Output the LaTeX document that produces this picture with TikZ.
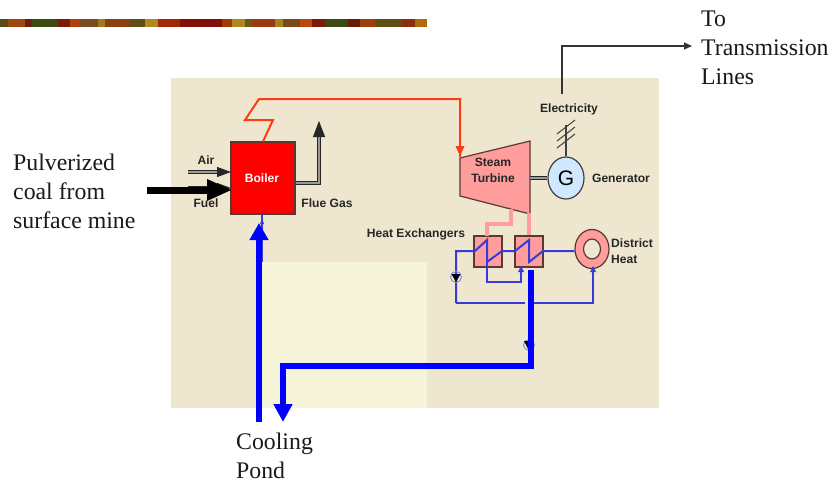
\documentclass[tikz,border=0pt]{standalone}
\usepackage{fontspec}
\setmainfont{Liberation Serif}
\setsansfont{Liberation Sans}
\usetikzlibrary{arrows.meta,shapes.geometric}
\definecolor{panel}{HTML}{EFE6CF}
\definecolor{pond}{HTML}{F5F3D8}
\definecolor{pinkfill}{HTML}{FF9C9C}
\definecolor{steam}{HTML}{FF3A14}
\definecolor{pipeblue}{HTML}{3A3AD8}
\definecolor{genblue}{HTML}{CFE8FF}
\definecolor{edge}{HTML}{5A3A30}
\tikzset{
  big/.style={font=\fontsize{23.8}{29}\selectfont, align=left, text=black!90, inner sep=0pt},
  lab/.style={font=\sffamily\bfseries\fontsize{12.1}{16}\selectfont, text=black!85, inner sep=0pt, align=center},
  hx/.style={draw=edge, line width=1.2pt, fill=pinkfill, minimum width=28pt, minimum height=31pt, inner sep=0pt},
  thinblue/.style={draw=pipeblue, line width=2pt},
  pinkpipe/.style={draw=pinkfill, line width=3.6pt},
  steamline/.style={draw=steam, line width=2pt},
  dbl/.style={line width=1pt, draw=black!85, double=black!40, double distance=1.2pt},
  wire/.style={draw=black!75, line width=1.3pt}
}
\begin{document}
\begin{tikzpicture}[x=1pt,y=-1pt]
\useasboundingbox (0,0) rectangle (833,483);
% top band
\foreach \a/\b/\c in {0/8/5A4A1A,8/25/9A4A10,25/32/6A2010,32/58/3A4A10,58/70/7A1A10,70/80/B04010,80/98/7A4A20,98/105/A07A20,105/130/8A4010,130/145/5E5012,145/158/B08A20,158/180/A02A08,180/222/801008,222/232/A03A08,232/245/B08A20,245/252/6A5A18,252/275/9A3A10,275/283/A88020,283/300/7A4A18,300/312/B84A10,312/325/7A1A08,325/348/3A4A10,348/360/6A1A08,360/375/9A4010,375/402/5E5012,402/415/8A3010,415/427/B06A10}{
  \definecolor{bandc}{HTML}{\c}
  \fill[bandc] (\a,19) rectangle (\b,27);
}
% panel
\fill[panel] (171,78) rectangle (659,408);
\fill[pond] (262,262) rectangle (427,408);
% coordinates
\coordinate (elecTop) at (562,94);
\coordinate (elecBend) at (562,46);
\coordinate (elecEnd) at (692,46);
\coordinate (s1) at (273,120);
\coordinate (s2) at (245,120);
\coordinate (s3) at (259,99);
\coordinate (s4) at (460,99);
\coordinate (tIn) at (460,157);
\coordinate (tOutA) at (511,209);
\coordinate (tOutB) at (529,213);
\coordinate (tShaft) at (530,178);
\coordinate (airS) at (188,172);
\coordinate (airE) at (231,172);
\coordinate (fuelS) at (188,188);
\coordinate (fuelE) at (231,188);
\coordinate (coalS) at (147,190);
\coordinate (coalE) at (232,190);
\coordinate (flueS) at (295,183);
\coordinate (flueB) at (319,183);
\coordinate (flueE) at (319,121);
\coordinate (upS) at (259,422);
\coordinate (upE) at (259,223);
\coordinate (coldS) at (531,270);
\coordinate (coldB) at (531,366);
\coordinate (coldC) at (283,366);
\coordinate (coldE) at (283,422);
\coordinate (wA) at (456,251);
\coordinate (wB) at (456,303);
\coordinate (wC) at (525,303);
\coordinate (wD) at (534,303);
\coordinate (wE) at (593,303);
% shapes
\node[draw=edge, line width=1.2pt, fill=red, minimum width=64pt, minimum height=72pt, inner sep=0pt] (boiler) at (263,178) {};
\draw[draw=edge, line width=1.2pt, fill=pinkfill] (460,158) -- (530,141) -- (530,214) -- (460,196) -- cycle;
\node[hx] (hxa) at (488,251.5) {};
\node[hx] (hxb) at (529,251.5) {};
\node[ellipse, draw=black!75, line width=1.2pt, fill=genblue, minimum width=36pt, minimum height=42pt, inner sep=0pt, font=\sffamily\fontsize{21}{21}\selectfont] (gen) at (566,178) {G};
\node[ellipse, draw=edge, line width=1.2pt, fill=pinkfill, minimum width=34pt, minimum height=39pt, inner sep=0pt] (dist) at (592,249) {};
\node[ellipse, draw=edge, line width=1.2pt, fill=panel, minimum width=17pt, minimum height=20pt, inner sep=0pt] (distin) at (592,249) {};
% steam
\draw[steamline] (boiler.north) -- (s1) -- (s2) -- (s3) -- (s4) -- (tIn);
\fill[steam] (455.5,146) -- (464.5,146) -- (460,156) -- cycle;
% pink pipes
\draw[pinkpipe] (tOutA) |- (487,224) -- (487,236);
\draw[pinkpipe] (tOutB) -- (hxb.north);
% shaft
\draw[dbl] (tShaft) -- (gen.west);
% electricity
\draw[wire] (gen.north) -- (566,125);
\foreach \d in {0,7,14}{\draw[wire,line width=1pt] (557,{141+\d-7}) -- (575,{127+\d-7});}
\draw[draw=black!80, line width=1.1pt, -{Triangle[length=8pt,width=7pt]}] (elecTop) -- (elecBend) -- (elecEnd);
% flue, air, fuel
\draw[dbl,-{Triangle[length=16pt,width=12pt]}] (boiler.east |- flueS) -- (flueB) -- (flueE);
\draw[dbl,-{Triangle[length=14pt,width=10pt]}] (airS) -- (airE);
\draw[dbl,-{Triangle[length=14pt,width=10pt]}] (fuelS) -- (fuelE);
\draw[draw=black, line width=7pt, -{Triangle[length=25pt,width=20pt]}] (coalS) -- (coalE);
% thin water
\draw[thinblue] (wB) -- (wA) -- (475,251) -- (487,240) -- (487,262) -- (502,251) -- (515,251) -- (529,240) -- (529,262) -- (543,251) -- (dist.west |- wA);
\draw[thinblue] (487,262) -- (487,282) -- (521,282) -- (521,268);
\draw[thinblue] (wB) -- (wC);
\draw[thinblue] (wD) -- (wE) -- (593,268);
\draw[thinblue] (262,214) -- (262,262);
\fill[pipeblue] (521,266) -- (518,272) -- (524,272) -- cycle;
\fill[pipeblue] (593,266) -- (590,272) -- (596,272) -- cycle;
\fill[pipeblue] (262,218) -- (260,224) -- (264,224) -- cycle;
% pumps
\node[circle, draw=pipeblue!60, line width=1pt, minimum size=11pt, inner sep=0pt] (pumpa) at (456,277) {};
\fill[black] (451.5,274) -- (460.5,274) -- (456,282) -- cycle;
\node[circle, draw=pipeblue!60, line width=1pt, minimum size=11pt, inner sep=0pt] (pumpb) at (529,345) {};
\fill[black] (524,341) -- (531,341) -- (528,349) -- cycle;
% thick water
\draw[draw=blue, line width=6pt, line cap=butt, line join=miter] (coldS) -- (coldB) -- (coldC) -- ++(0,20);
\draw[draw=blue, line width=6pt, -{Triangle[length=18pt,width=18pt]}] (283,380) -- (coldE);
\draw[draw=blue, line width=6pt, -{Triangle[length=17pt,width=18pt]}] (upS) -- (upE);
% labels
\node[lab,text=white!95!pink] (boilerlab) at (262,178) {Boiler};
\node[lab] (airlab) at (206,160) {Air};
\node[lab] (fuellab) at (206,203) {Fuel};
\node[lab] (fluelab) at (327,203) {Flue Gas};
\node[lab] (steamlab) at (493,170) {Steam\\Turbine};
\node[lab] (eleclab) at (569,109) {Electricity};
\node[lab] (genlab) at (621,178) {Generator};
\node[lab] (hxlab) at (416,234) {Heat Exchangers};
\node[lab,align=left,anchor=west] (distlab) at (611,251) {District\\Heat};
\node[big,anchor=west] (coal) at (13,191.5) {Pulverized\\coal from\\surface mine};
\node[big,anchor=west] (lines) at (701,48) {To\\Transmission\\Lines};
\node[big,anchor=west] (pondlab) at (236,456) {Cooling\\Pond};
\end{tikzpicture}
\end{document}
